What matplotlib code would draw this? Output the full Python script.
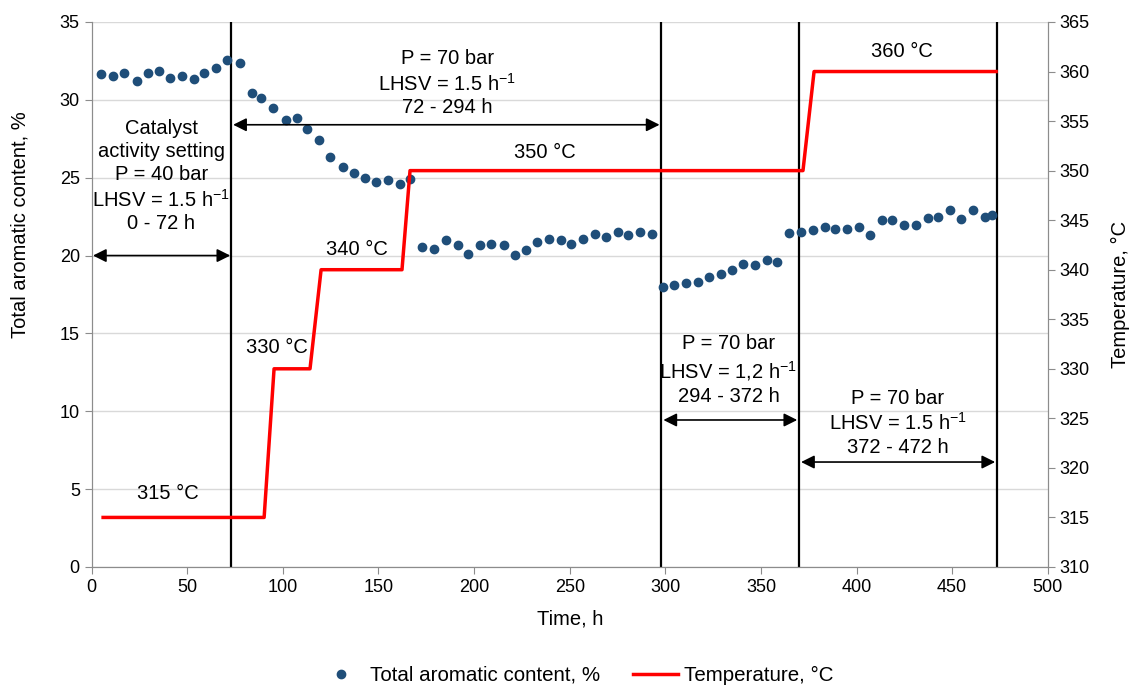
import matplotlib
matplotlib.use('Agg')
import matplotlib.pyplot as plt
import numpy as np

plt.rcParams['font.family'] = ['Liberation Sans', 'DejaVu Sans']
plt.rcParams['mathtext.fontset'] = 'custom'
plt.rcParams['mathtext.rm'] = 'Liberation Sans'
plt.rcParams['mathtext.it'] = 'Liberation Sans'

# aromatic content points (time h, %)
time_h = [4.7, 11.1, 16.9, 23.5, 29.6, 35.0, 40.9, 47.4, 53.4, 58.7, 64.8, 70.9, 77.5,
          83.6, 88.8, 94.7, 101.4, 107.5, 112.7, 118.8, 124.9, 131.5, 137.4, 142.8,
          148.9, 155.2, 161.4, 166.7,
          172.8, 178.8, 185.3, 191.4, 196.8, 202.9, 209.0, 215.4, 221.5, 226.9, 232.9,
          239.1, 245.4, 250.6, 256.9, 263.0, 269.1, 275.3, 280.7, 286.8, 293.3,
          299.0, 304.6, 310.9, 317.0, 323.0, 329.2, 334.7, 340.8, 346.9, 353.0, 358.6,
          364.8, 370.8, 377.1, 383.3, 388.7, 394.8, 401.1, 407.0, 413.4, 418.7, 424.8,
          430.9, 437.2, 442.7, 448.8, 454.9, 461.0, 467.1, 470.9]
aromatics = [31.64, 31.53, 31.74, 31.19, 31.73, 31.85, 31.42, 31.53, 31.32, 31.74, 32.07, 32.56, 32.39,
             30.46, 30.10, 29.48, 28.71, 28.82, 28.15, 27.42, 26.35, 25.71, 25.28, 24.96,
             24.74, 24.85, 24.60, 24.90,
             20.57, 20.44, 20.98, 20.66, 20.12, 20.66, 20.76, 20.66, 20.02, 20.34, 20.87,
             21.08, 20.98, 20.76, 21.08, 21.41, 21.19, 21.51, 21.30, 21.51, 21.41,
             17.96, 18.11, 18.22, 18.32, 18.61, 18.84, 19.05, 19.48, 19.38, 19.70, 19.59,
             21.43, 21.53, 21.62, 21.84, 21.73, 21.73, 21.84, 21.32, 22.27, 22.27, 21.97,
             21.97, 22.39, 22.50, 22.91, 22.37, 22.91, 22.48, 22.59]

# temperature profile (time h, degC)
temp_time = [6, 90.2, 95.4, 114.2, 120.0, 162.3, 166.5, 372.0, 377.8, 473]
temp_val = [315, 315, 330, 330, 340, 340, 350, 350, 360, 360]

# period boundaries
boundaries = [73, 298, 370, 473.5]

fig = plt.figure(figsize=(11.3, 6.87), dpi=100)
ax = fig.add_axes([0.0811, 0.1747, 0.8461, 0.7933])
ax2 = ax.twinx()

gray = '#8c8c8c'
ax.set_xlim(0, 500)
ax.set_ylim(0, 35)
ax.set_xticks(np.arange(0, 501, 50))
ax.set_yticks(np.arange(0, 36, 5))
ax2.set_ylim(310, 365)
ax2.set_yticks(np.arange(310, 366, 5))
ax.yaxis.grid(True, color='#d9d9d9', lw=1)
ax.set_axisbelow(True)
for a in (ax, ax2):
    a.spines['top'].set_visible(False)
    for s in ('left', 'right', 'bottom'):
        a.spines[s].set_color(gray)
    a.tick_params(colors='black', labelsize=13, length=5, color=gray)

ax.plot(time_h, aromatics, 'o', color='#1f4e79', ms=6, ls='',
        label='Total aromatic content, %', zorder=3)
ln, = ax2.plot(temp_time, temp_val, color='#ff0000', lw=2.5, label='Temperature, °C')

for b in boundaries:
    ax.axvline(b, color='black', lw=1.6, zorder=2)

arrows = [(0.7, 72.5, 20.0), (74.0, 297.0, 28.4), (299.0, 369.0, 9.44), (371.0, 472.5, 6.74)]
for x0, x1, yy in arrows:
    ax.annotate('', xy=(x0, yy), xytext=(x1, yy),
                arrowprops=dict(arrowstyle='<|-|>', color='black', lw=1.2,
                                mutation_scale=20, shrinkA=0, shrinkB=0))

fs = 14.5
ls = 1.27
ax.text(36.5, 25.11, 'Catalyst\nactivity setting\nP = 40 bar\nLHSV = 1.5 h$^{-1}$\n0 - 72 h',
        ha='center', va='center', fontsize=fs, linespacing=ls)
ax.text(186, 31.08, 'P = 70 bar\nLHSV = 1.5 h$^{-1}$\n72 - 294 h',
        ha='center', va='center', fontsize=fs, linespacing=ls)
ax.text(333, 12.65, 'P = 70 bar\nLHSV = 1,2 h$^{-1}$\n294 - 372 h',
        ha='center', va='center', fontsize=fs, linespacing=ls)
ax.text(421.5, 9.25, 'P = 70 bar\nLHSV = 1.5 h$^{-1}$\n372 - 472 h',
        ha='center', va='center', fontsize=fs, linespacing=ls)
ax.text(40, 4.75, '315 °C', ha='center', va='center', fontsize=fs)
ax.text(97, 14.1, '330 °C', ha='center', va='center', fontsize=fs)
ax.text(139, 20.4, '340 °C', ha='center', va='center', fontsize=fs)
ax.text(237, 26.6, '350 °C', ha='center', va='center', fontsize=fs)
ax.text(424, 33.1, '360 °C', ha='center', va='center', fontsize=fs)

ax.set_xlabel('Time, h', fontsize=14.5, labelpad=10)
ax.set_ylabel('Total aromatic content, %', fontsize=14.5)
ax.yaxis.set_label_coords(-0.065, 0.628)
ax2.set_ylabel('Temperature, °C', fontsize=14.5)
ax2.yaxis.set_label_coords(1.066, 0.5)

h1, l1 = ax.get_legend_handles_labels()
fig.legend(h1 + [ln], l1 + ['Temperature, °C'], loc='lower center',
           bbox_to_anchor=(0.51, -0.024), ncol=2, frameon=False, fontsize=14.8,
           columnspacing=1.6, handlelength=2.2, handletextpad=0.3)

fig.savefig('out.png', dpi=100)
